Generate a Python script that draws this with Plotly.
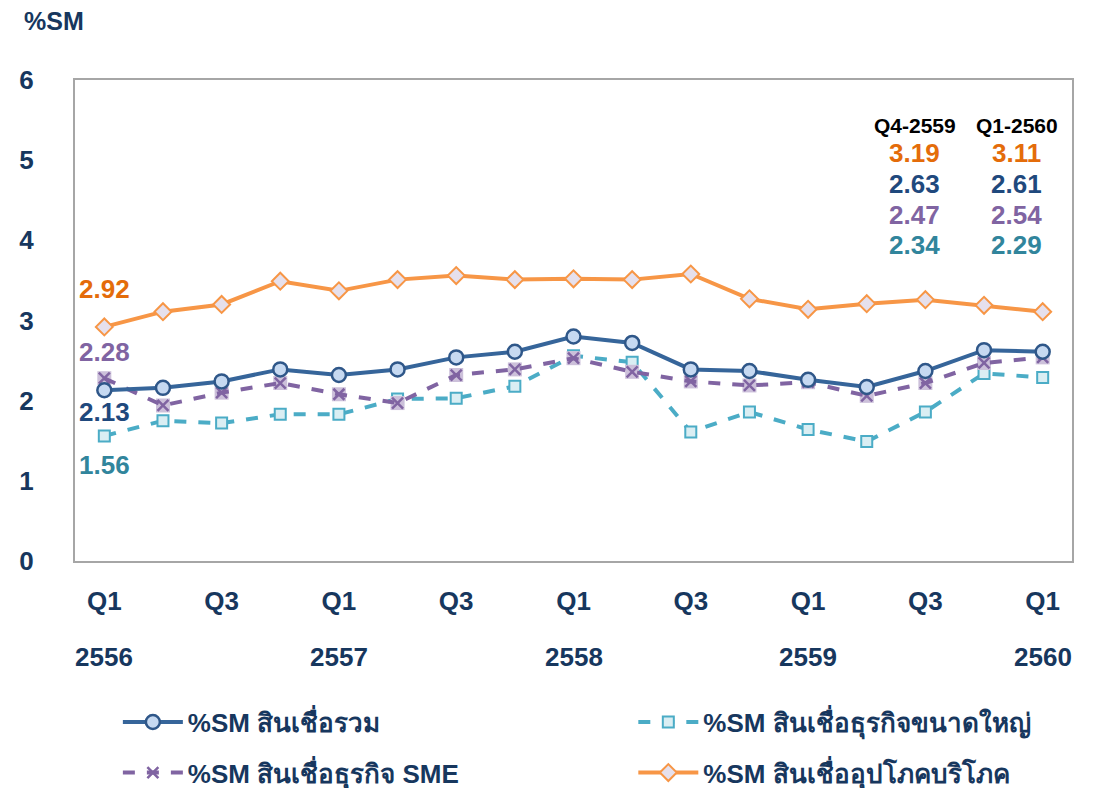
import plotly.graph_objects as go

quarters = ["Q1", "Q2", "Q3", "Q4"]
years = ["2556", "2557", "2558", "2559", "2560"]
categories = [f"{q}-{y}" for y in years for q in quarters][:17]

total = [2.13, 2.16, 2.24, 2.39, 2.32, 2.39, 2.54, 2.61, 2.80, 2.72, 2.39, 2.37, 2.26, 2.17, 2.37, 2.63, 2.61]
large = [1.56, 1.75, 1.72, 1.83, 1.83, 2.02, 2.03, 2.18, 2.56, 2.48, 1.61, 1.86, 1.64, 1.49, 1.86, 2.34, 2.29]
sme = [2.28, 1.94, 2.10, 2.22, 2.08, 1.97, 2.32, 2.39, 2.53, 2.36, 2.24, 2.19, 2.23, 2.06, 2.22, 2.47, 2.54]
consumer = [2.92, 3.11, 3.20, 3.49, 3.37, 3.51, 3.56, 3.51, 3.52, 3.51, 3.58, 3.27, 3.14, 3.21, 3.26, 3.19, 3.11]

names = ["%SM สินเชื่อรวม", "%SM สินเชื่อธุรกิจขนาดใหญ่", "%SM สินเชื่อธุรกิจ SME", "%SM สินเชื่ออุปโภคบริโภค"]
tick_cats = categories[::2]
tick_text = ["Q1", "Q3"] * 4 + ["Q1"]
year_cats = categories[::4]
year_text = years

FONT = "Liberation Sans, Arial, sans-serif"
NAVY = "#17375E"

fig = go.Figure()
fig.add_trace(go.Scatter(
    x=categories, y=large, name=f"<b>{names[1]}</b>", mode="lines+markers", legend="legend2", showlegend=True,
    line=dict(color="#4BACC6", width=4, dash="dash"),
    marker=dict(symbol="square", size=11, color="#DAEEF3", line=dict(color="#4BACC6", width=2))))
fig.add_trace(go.Scatter(
    x=categories, y=sme, mode="markers", showlegend=False, hoverinfo="skip",
    marker=dict(symbol="square", size=14, color="#CCC0DA", line=dict(width=0))))
fig.add_trace(go.Scatter(
    x=categories, y=sme, name=f"<b>{names[2]}</b>", mode="lines+markers", legend="legend3", showlegend=True,
    line=dict(color="#8064A2", width=4, dash="dash"),
    marker=dict(symbol="x-thin", size=11, color="#8064A2", line=dict(color="#8064A2", width=2.5))))
fig.add_trace(go.Scatter(
    x=categories, y=consumer, name=f"<b>{names[3]}</b>", mode="lines+markers", legend="legend4", showlegend=True,
    line=dict(color="#F79646", width=4),
    marker=dict(symbol="diamond", size=13, color="#E6E0EC", line=dict(color="#F79646", width=2))))
fig.add_trace(go.Scatter(
    x=categories, y=total, name=f"<b>{names[0]}</b>", mode="lines+markers", legend="legend", showlegend=True,
    line=dict(color="#36659A", width=4),
    marker=dict(symbol="circle", size=14, color="#C6D9F1", line=dict(color="#2F5789", width=2.5))))

legend_common = dict(orientation="h", xanchor="left", yanchor="middle",
                     font=dict(family=FONT, size=26, color=NAVY), bgcolor="rgba(0,0,0,0)",
                     itemwidth=60, visible=True)
fig.update_layout(
    showlegend=True,
    legend=dict(x=0.043, y=-0.335, **legend_common),
    legend2=dict(x=0.560, y=-0.335, **legend_common),
    legend3=dict(x=0.043, y=-0.44, **legend_common),
    legend4=dict(x=0.560, y=-0.44, **legend_common),
)

annotations = []
# first-point labels
first_labels = [
    (consumer[0], "#E46C0A", 38),
    (sme[0], "#8064A2", 26),
    (total[0], "#1F497D", -22),
    (large[0], "#31859C", -29),
]
for val, col, shift in first_labels:
    annotations.append(dict(x=categories[0], y=val, xref="x", yref="y", text=f"<b>{val:.2f}</b>",
                            showarrow=False, yshift=shift, xanchor="center", yanchor="middle",
                            font=dict(family=FONT, size=26, color=col)))
# table at top right
cols_x = [0.8425, 0.9445]
head = ["Q4-2559", "Q1-2560"]
rows = [(consumer, "#E46C0A"), (total, "#1F497D"), (sme, "#8064A2"), (large, "#31859C")]
rows_y = [0.848, 0.784, 0.719, 0.657]
for ci, idx in enumerate([15, 16]):
    annotations.append(dict(x=cols_x[ci], y=0.906, xref="paper", yref="paper", text=f"<b>{head[ci]}</b>",
                            showarrow=False, xanchor="center", yanchor="middle",
                            font=dict(family=FONT, size=21, color="#000000")))
    for (series, col), yy in zip(rows, rows_y):
        annotations.append(dict(x=cols_x[ci], y=yy, xref="paper", yref="paper",
                                text=f"<b>{series[idx]:.2f}</b>", showarrow=False,
                                xanchor="center", yanchor="middle",
                                font=dict(family=FONT, size=26, color=col)))
# year labels
for c, t in zip(year_cats, year_text):
    annotations.append(dict(x=c, y=-0.1996, xref="x", yref="paper", text=f"<b>{t}</b>",
                            showarrow=False, xanchor="center", yanchor="middle",
                            font=dict(family=FONT, size=26, color=NAVY)))
# %SM title
annotations.append(dict(x=-0.053, y=1.122, xref="paper", yref="paper", text="<b>%SM</b>",
                        showarrow=False, xanchor="left", yanchor="middle",
                        font=dict(family=FONT, size=25, color=NAVY)))

fig.update_layout(
    width=1089, height=780,
    margin=dict(l=67, r=25, t=72, b=227, autoexpand=False),
    paper_bgcolor="white", plot_bgcolor="white",
    annotations=annotations,
    font=dict(family=FONT, color=NAVY),
)
fig.update_xaxes(
    type="category", categoryorder="array", categoryarray=categories,
    range=[-0.5, 16.5], tickmode="array", tickvals=tick_cats,
    ticktext=[f"<b>{t}</b>" for t in tick_text],
    tickfont=dict(family=FONT, size=26, color=NAVY), ticks="", ticklabelstandoff=16,
    showgrid=False, showline=True, linecolor="#A6A6A6", linewidth=2, mirror=True, zeroline=False)
fig.update_yaxes(
    range=[0, 6], tickmode="array", tickvals=[0, 1, 2, 3, 4, 5, 6],
    ticktext=[f"<b>{v}</b>" for v in range(7)],
    tickfont=dict(family=FONT, size=26, color=NAVY), ticks="", ticklabelstandoff=34,
    showgrid=False, showline=True, linecolor="#A6A6A6", linewidth=2, mirror=True, zeroline=False)

fig.write_html("out.html")
